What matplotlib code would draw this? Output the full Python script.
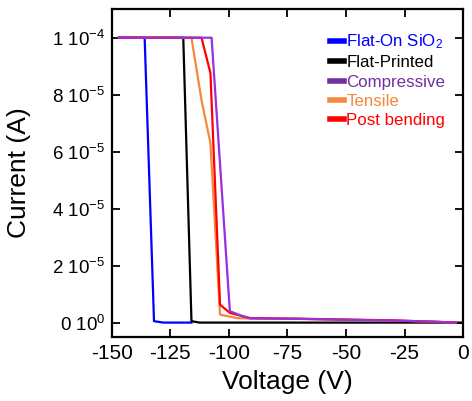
import matplotlib
matplotlib.use('Agg')
import matplotlib.pyplot as plt
from matplotlib.ticker import FixedLocator, FuncFormatter

plt.rcParams['font.family'] = ['Liberation Sans', 'DejaVu Sans']
plt.rcParams['mathtext.fontset'] = 'custom'
plt.rcParams['mathtext.rm'] = 'Liberation Sans'
plt.rcParams['mathtext.it'] = 'Liberation Sans'
plt.rcParams['axes.unicode_minus'] = False

# voltage (V) / current (A)
blue_v = [-147, -136, -132, -128, -116]
blue_i = [1e-4, 1e-4, 0.05e-5, 0, 0]

black_v = [-147, -119.5, -116, -112.5, 0]
black_i = [1e-4, 1e-4, 0.05e-5, 0, 0]

orange_v = [-147, -116, -111.7, -107.9, -103.8, -96.7, -91, -71, -50, -30, -14, -3]
orange_i = [1e-4, 1e-4, 7.8e-5, 6.3e-5, 0.28e-5, 0.16e-5, 0.14e-5, 0.14e-5, 0.1e-5, 0.07e-5, 0.04e-5, 0]

red_v = [-147, -111.7, -107.9, -103.8, -99.6, -91, -60, -30, -3]
red_i = [1e-4, 1e-4, 8.76e-5, 0.63e-5, 0.34e-5, 0.16e-5, 0.12e-5, 0.08e-5, 0]

purple_v = [-147, -107.4, -99.6, -94, -91, -70, -50, -30, -15, -3]
purple_i = [1e-4, 1e-4, 0.4e-5, 0.22e-5, 0.15e-5, 0.13e-5, 0.1e-5, 0.07e-5, 0.04e-5, 0]

labels = ['Flat-On SiO$_2$', 'Flat-Printed', 'Compressive', 'Tensile', 'Post bending']
x_ticks = [-150, -125, -100, -75, -50, -25, 0]
y_ticks = [0, 2e-5, 4e-5, 6e-5, 8e-5, 1e-4]

fig = plt.figure(figsize=(4.72, 4.01), dpi=100)
ax = fig.add_axes([0.237, 0.160, 0.744, 0.817])

lb, = ax.plot(blue_v, blue_i, color='#0000ff', lw=1.6)
lk, = ax.plot(black_v, black_i, color='black', lw=1.6)
lo, = ax.plot(orange_v, orange_i, color='#f5883c', lw=1.6)
lr, = ax.plot(red_v, red_i, color='#ff0000', lw=1.6)
lp, = ax.plot(purple_v, purple_i, color='#9a2fe0', lw=1.6)

ax.set_xlim(-150, 0)
ax.set_ylim(-0.5e-5, 1.1e-4)
ax.xaxis.set_major_locator(FixedLocator(x_ticks))
ax.yaxis.set_major_locator(FixedLocator(y_ticks))


def sci_fmt(val, pos):
    if val == 0:
        return '0 10$^{0}$'
    exp = int(('%e' % val).split('e')[1])
    mant = round(val / 10 ** exp)
    return '%d 10$^{%d}$' % (mant, exp)


ax.yaxis.set_major_formatter(FuncFormatter(sci_fmt))
ax.tick_params(direction='in', length=6, width=1.3, labelsize=15, top=True, right=True, pad=5)
ax.tick_params(axis='y', labelsize=13.5, pad=5)
for s in ax.spines.values():
    s.set_linewidth(1.6)

ax.set_xlabel('Voltage (V)', fontsize=19, labelpad=5)
ax.set_ylabel('Current (A)', fontsize=19, labelpad=15)

leg = ax.legend([lb, lk, lp, lo, lr], labels, loc='upper right', bbox_to_anchor=(0.978, 0.96),
                frameon=False, fontsize=12.2, handlelength=0.85, handletextpad=0.12,
                labelspacing=0.25, borderaxespad=0.2, labelcolor='linecolor')
for h in leg.legend_handles:
    h.set_linewidth(4)
leg.get_texts()[2].set_color('#7030a0')
leg.legend_handles[2].set_color('#7030a0')

fig.savefig('out.png', dpi=100)
